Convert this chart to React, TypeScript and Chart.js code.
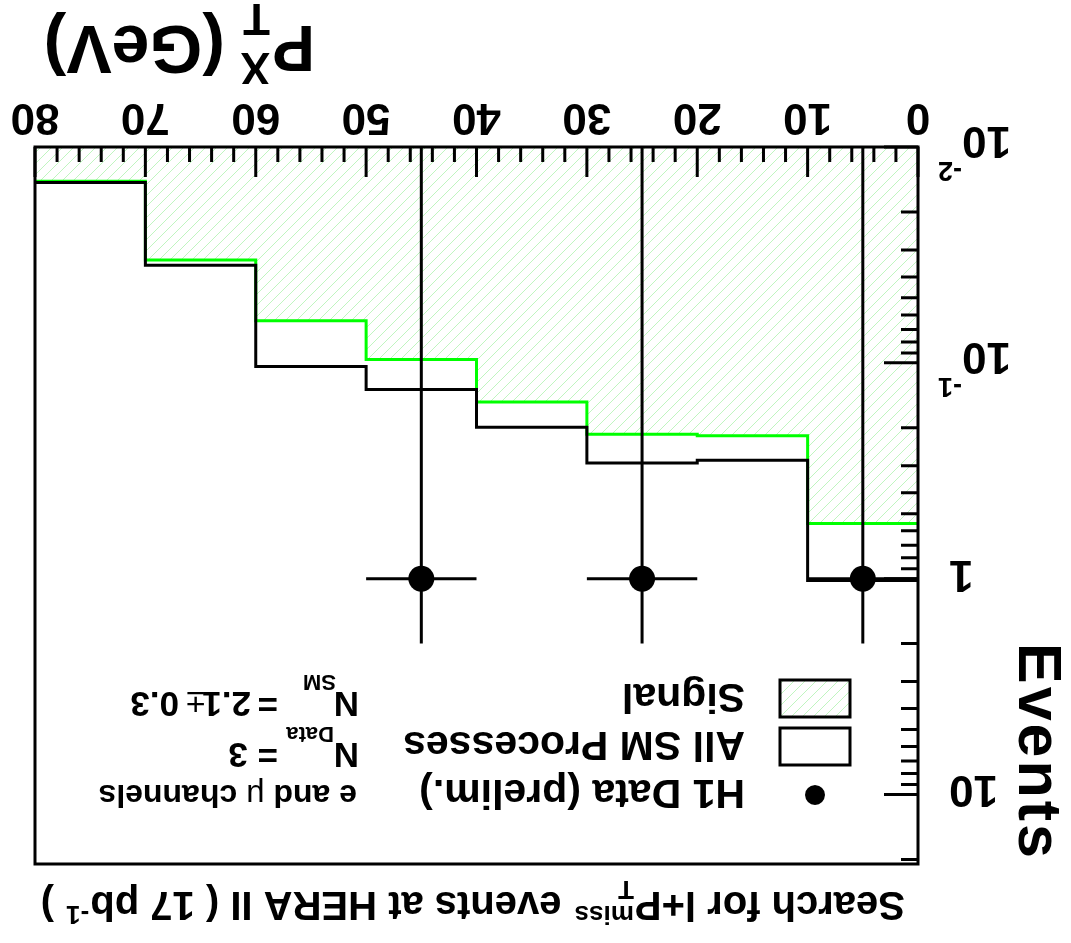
import React, { useEffect, useRef } from 'react';
import { Chart, registerables } from 'chart.js';

Chart.register(...registerables);

// ---- data ----
const binEdges = [0, 10, 20, 30, 40, 50, 60, 70, 80];
const smValues = [1.02, 0.283, 0.291, 0.199, 0.133, 0.104, 0.0353, 0.0146];
const signalValues = [0.556, 0.218, 0.214, 0.152, 0.0964, 0.0639, 0.0334, 0.0144];
const dataX = [5, 25, 45];
const dataY = [1, 1, 1];
const dataErrLow = [1, 1, 1];
const dataErrHigh = [1, 1, 1];
const dataXErr = [5, 5, 5];
const xTickValues = [0, 10, 20, 30, 40, 50, 60, 70, 80];
const xTickLabels = ['0', '10', '20', '30', '40', '50', '60', '70', '80'];
const xMinorStep = 2;
const yTickValues = [0.01, 0.1, 1, 10];
const yTickBase = ['10', '10', '1', '10'];
const yTickExp = ['-2', '-1', '', ''];
const legendLabels = ['H1 Data (prelim.)', 'All SM Processes', 'Signal'];

const FONT = '"Liberation Sans", Arial, Helvetica, sans-serif';
const W = 1071;
const H = 943;

function histPoints(values: number[]) {
  const pts = values.map((v, i) => ({ x: binEdges[i], y: v }));
  pts.push({ x: binEdges[binEdges.length - 1], y: values[values.length - 1] });
  return pts;
}

function makeHatch(): CanvasPattern | string {
  const s = 11;
  const c = document.createElement('canvas');
  c.width = s;
  c.height = s;
  const g = c.getContext('2d');
  if (!g) return 'rgba(150,240,150,0.3)';
  g.strokeStyle = 'rgba(130, 235, 130, 0.5)';
  g.lineWidth = 1;
  g.beginPath();
  g.moveTo(0, s);
  g.lineTo(s, 0);
  g.moveTo(-1, 1);
  g.lineTo(1, -1);
  g.moveTo(s - 1, s + 1);
  g.lineTo(s + 1, s - 1);
  g.stroke();
  return g.createPattern(c, 'repeat') || 'rgba(150,240,150,0.3)';
}

function font(size: number, bold = true) {
  return `${bold ? 'bold ' : ''}${size}px ${FONT}`;
}

function drawText(ctx: CanvasRenderingContext2D, t: string, x: number, y: number, size: number, bold = true) {
  ctx.font = font(size, bold);
  ctx.fillText(t, x, y);
  return x + ctx.measureText(t).width;
}

const hatchRef: { p: CanvasPattern | string | null } = { p: null };

const framePlugin = {
  id: 'h1frame',
  afterDatasetsDraw(chart: any) {
    const ctx: CanvasRenderingContext2D = chart.ctx;
    const xs = chart.scales.x;
    const ys = chart.scales.y;
    const a = chart.chartArea;
    ctx.save();
    ctx.beginPath();
    ctx.rect(a.left, a.top, a.right - a.left, a.bottom - a.top);
    ctx.clip();
    ctx.strokeStyle = '#000';
    ctx.lineWidth = 3;
    for (let i = 0; i < dataX.length; i++) {
      const px = xs.getPixelForValue(dataX[i]);
      const py = ys.getPixelForValue(dataY[i]);
      const x0 = xs.getPixelForValue(dataX[i] - dataXErr[i]);
      const x1 = xs.getPixelForValue(dataX[i] + dataXErr[i]);
      const lowV = Math.max(dataY[i] - dataErrLow[i], ys.min);
      const y0 = ys.getPixelForValue(lowV);
      const y1 = ys.getPixelForValue(dataY[i] + dataErrHigh[i]);
      ctx.beginPath();
      ctx.moveTo(x0, py);
      ctx.lineTo(x1, py);
      ctx.moveTo(px, y0);
      ctx.lineTo(px, y1);
      ctx.stroke();
    }
    ctx.restore();
  },
  afterDraw(chart: any) {
    const ctx: CanvasRenderingContext2D = chart.ctx;
    const xs = chart.scales.x;
    const ys = chart.scales.y;
    const a = chart.chartArea;
    ctx.save();
    ctx.strokeStyle = '#000';
    ctx.fillStyle = '#000';
    // ticks
    ctx.lineWidth = 3;
    ctx.beginPath();
    for (let v = xs.min; v <= xs.max + 1e-9; v += xMinorStep) {
      const px = xs.getPixelForValue(v);
      const major = xTickValues.some((t) => Math.abs(t - v) < 1e-6);
      ctx.moveTo(px, a.bottom);
      ctx.lineTo(px, a.bottom - (major ? 30 : 15));
    }
    for (let e = -2; e <= 1; e++) {
      for (let m = 1; m <= 9; m++) {
        const v = m * Math.pow(10, e);
        if (v < ys.min - 1e-12 || v > ys.max) continue;
        const py = ys.getPixelForValue(v);
        ctx.moveTo(a.left, py);
        ctx.lineTo(a.left + (m === 1 ? 34 : 17), py);
      }
    }
    ctx.stroke();
    // frame
    ctx.strokeRect(a.left, a.top, a.right - a.left, a.bottom - a.top);

    // x tick labels
    ctx.font = font(44);
    ctx.textAlign = 'center';
    ctx.textBaseline = 'alphabetic';
    xTickValues.forEach((v, i) => {
      ctx.fillText(xTickLabels[i], xs.getPixelForValue(v), a.bottom + 43);
    });
    // y tick labels
    yTickValues.forEach((v, i) => {
      const py = ys.getPixelForValue(v);
      if (yTickExp[i]) {
        ctx.font = font(44);
        ctx.textAlign = 'right';
        ctx.fillText(yTickBase[i], a.left - 44, py + 20);
        ctx.font = font(27);
        ctx.textAlign = 'left';
        ctx.fillText(yTickExp[i], a.left - 44, py - 15);
      } else {
        ctx.font = font(44);
        ctx.textAlign = 'right';
        ctx.fillText(yTickBase[i], a.left - 31, py + 18);
      }
    });

    // y title
    ctx.save();
    ctx.translate(52, a.top + 3);
    ctx.rotate(-Math.PI / 2);
    ctx.font = font(61);
    (ctx as any).letterSpacing = '3px';
    ctx.textAlign = 'right';
    ctx.fillText('Events', 0, 0);
    (ctx as any).letterSpacing = '0px';
    ctx.restore();

    // x title  P_T^X (GeV)
    ctx.textAlign = 'left';
    {
      const base = 917;
      drawText(ctx, 'P', 756, base, 64);
      drawText(ctx, 'T', 801, base + 22, 44);
      drawText(ctx, 'X', 801, base - 27, 44);
      drawText(ctx, '(GeV)', 846, base, 68);
    }

    // title
    {
      const base = 51;
      let x = drawText(ctx, 'Search for l+P', 166, base, 40);
      ctx.font = font(26);
      ctx.fillText('T', x + 1, base + 11);
      ctx.fillText('miss', x + 1, base - 14);
      x += ctx.measureText('miss').width + 3;
      x = drawText(ctx, ' events at HERA II ( 17 pb', x, base, 40);
      x = drawText(ctx, '-1', x + 1, base - 14, 26);
      drawText(ctx, ' )', x + 1, base, 40);
    }

    // legend
    {
      const cx = 256;
      const rows = [148, 196, 244];
      ctx.beginPath();
      ctx.arc(cx, rows[0], 10, 0, Math.PI * 2);
      ctx.fill();
      ctx.lineWidth = 3;
      ctx.fillStyle = '#fff';
      ctx.fillRect(221, rows[1] - 18, 70, 37);
      ctx.strokeRect(221, rows[1] - 18, 70, 37);
      ctx.fillStyle = hatchRef.p || '#cfc';
      ctx.fillRect(221, rows[2] - 18, 70, 37);
      ctx.strokeRect(221, rows[2] - 18, 70, 37);
      ctx.fillStyle = '#000';
      ctx.font = font(41);
      ctx.textAlign = 'left';
      legendLabels.forEach((l, i) => ctx.fillText(l, 326, rows[i] + 15));
    }

    // info text
    {
      ctx.textAlign = 'left';
      let x = drawText(ctx, 'e and ', 714, 158, 32);
      x = drawText(ctx, '\u03bc', x, 158, 32, false);
      drawText(ctx, ' channels', x, 158, 32);

      drawText(ctx, 'N', 712, 200, 35);
      drawText(ctx, 'Data', 737, 216, 22);
      drawText(ctx, '= 3', 793, 200, 35);

      drawText(ctx, 'N', 712, 251, 35);
      drawText(ctx, 'SM', 735, 268, 22);
      drawText(ctx, '=', 793, 251, 35);
      drawText(ctx, '2.1', 820, 251, 35);
      drawText(ctx, '\u00b1', 866, 251, 34, false);
      drawText(ctx, '0.3', 892, 251, 35);
    }
    ctx.restore();
  },
};

export default function App() {
  const ref = useRef<HTMLCanvasElement | null>(null);
  useEffect(() => {
    if (!ref.current) return;
    const hatch = makeHatch();
    hatchRef.p = hatch;
    const chart = new Chart(ref.current, {
      type: 'scatter',
      data: {
        datasets: [
          {
            label: legendLabels[2],
            data: histPoints(signalValues),
            showLine: true,
            stepped: true,
            borderColor: '#00ff00',
            borderWidth: 3,
            pointRadius: 0,
            fill: 'start',
            backgroundColor: hatch as any,
            order: 3,
          } as any,
          {
            label: legendLabels[1],
            data: histPoints(smValues),
            showLine: true,
            stepped: true,
            borderColor: '#000',
            borderWidth: 3,
            pointRadius: 0,
            fill: false,
            order: 2,
          } as any,
          {
            label: legendLabels[0],
            data: dataX.map((x, i) => ({ x, y: dataY[i] })),
            showLine: false,
            pointRadius: 13,
            pointBackgroundColor: '#000',
            pointBorderWidth: 0,
            order: 1,
          } as any,
        ],
      },
      options: {
        responsive: false,
        animation: false,
        layout: { padding: { left: 153, right: 35, top: 79, bottom: 147 } },
        scales: {
          x: { type: 'linear', min: 0, max: 80, display: false },
          y: { type: 'logarithmic', min: 0.01, max: 21, display: false },
        },
        plugins: { legend: { display: false }, tooltip: { enabled: false } },
      },
      plugins: [framePlugin],
    });
    return () => chart.destroy();
  }, []);
  return (
    <div
      style={{
        position: 'fixed',
        left: 0,
        top: 0,
        width: W,
        height: H,
        background: '#fff',
        transform: 'rotate(180deg)',
      }}
    >
      <canvas ref={ref} width={W} height={H} style={{ display: 'block', width: W, height: H }} />
    </div>
  );
}
